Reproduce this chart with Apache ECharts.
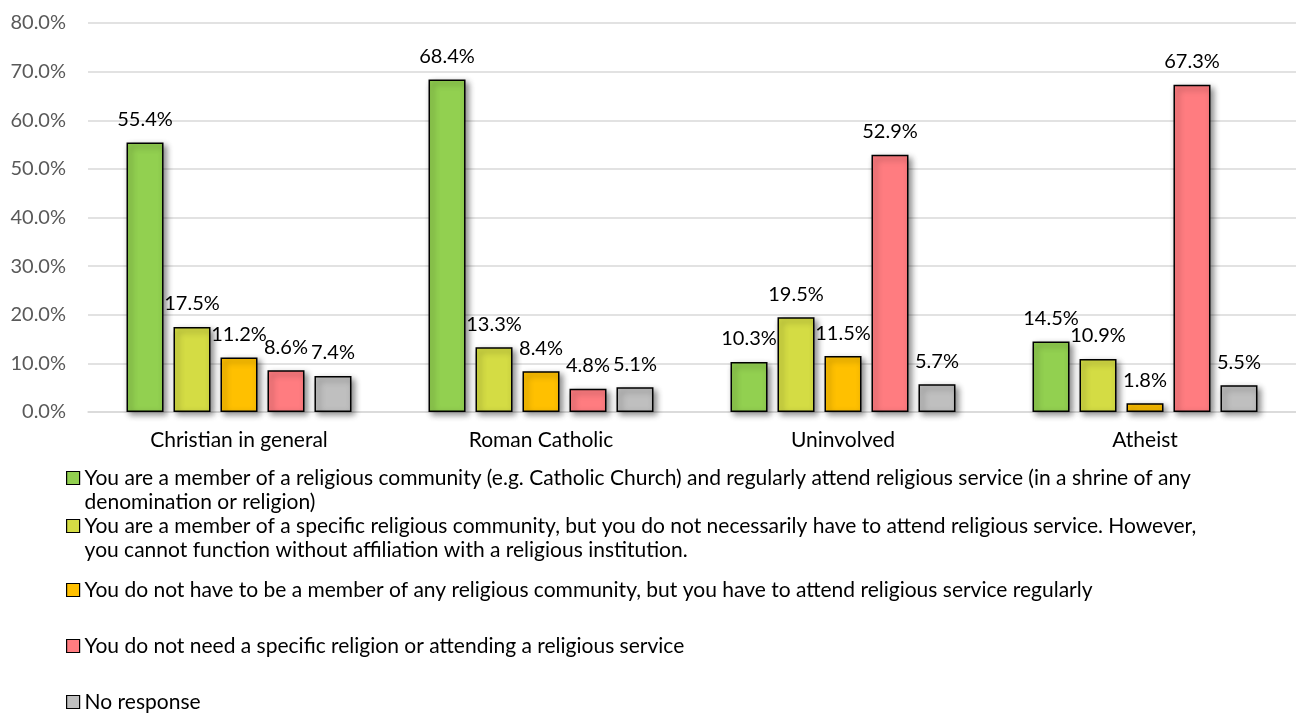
<!DOCTYPE html>
<html>
<head>
<meta charset="utf-8">
<script src="https://cdn.jsdelivr.net/npm/echarts@6/dist/echarts.min.js"></script>
<style>html,body{margin:0;padding:0;background:#fff;}#c{width:1296px;height:713px;}</style>
</head>
<body>
<div id="c"></div>
<script>
const categories = ['Christian in general', 'Roman Catholic', 'Uninvolved', 'Atheist'];
const seriesNames = [
  'You are a member of a religious community (e.g. Catholic Church) and regularly attend religious service (in a shrine of any denomination or religion)',
  'You are a member of a specific religious community, but you do not necessarily have to attend religious service. However, you cannot function without affiliation with a religious institution.',
  'You do not have to be a member of any religious community, but you have to attend religious service regularly',
  'You do not need a specific religion or attending a religious service',
  'No response'
];
const legendText = [
  'You are a member of a religious community (e.g. Catholic Church) and regularly attend religious service (in a shrine of any\ndenomination or religion)',
  'You are a member of a specific religious community, but you do not necessarily have to attend religious service. However,\nyou cannot function without affiliation with a religious institution.',
  'You do not have to be a member of any religious community, but you have to attend religious service regularly',
  'You do not need a specific religion or attending a religious service',
  'No response'
];
const memberAttend = [55.4, 68.4, 10.3, 14.5];
const memberNoAttend = [17.5, 13.3, 19.5, 10.9];
const attendNoMember = [11.2, 8.4, 11.5, 1.8];
const noReligion = [8.6, 4.8, 52.9, 67.3];
const noResponse = [7.4, 5.1, 5.7, 5.5];
const yTicks = [0, 10, 20, 30, 40, 50, 60, 70, 80];

const colors = ['#92D050', '#D4DC44', '#FFC000', '#FF7C80', '#BFBFBF'];
const values = [memberAttend, memberNoAttend, attendNoMember, noReligion, noResponse];
const FONT = 'Lato, "Open Sans", sans-serif';

const series = values.map((v, i) => ({
  name: seriesNames[i],
  type: 'bar',
  data: v,
  barWidth: 37,
  barGap: '27%',
  itemStyle: {
    color: colors[i],
    borderColor: '#000',
    borderWidth: 1.5,
    shadowColor: 'rgba(0,0,0,0.45)',
    shadowBlur: 6,
    shadowOffsetX: 3,
    shadowOffsetY: 3
  },
  label: {
    show: true,
    position: 'top',
    distance: 13,
    formatter: p => p.value.toFixed(1) + '%',
    fontFamily: FONT,
    fontSize: 20,
    color: '#000'
  }
}));

const legendCenters = [478, 526, 590, 646, 702];
const legends = seriesNames.map((n, i) => {
  const twoLine = legendText[i].indexOf('\n') >= 0;
  return {
    data: [n],
    left: 66,
    top: twoLine ? legendCenters[i] - 36 : legendCenters[i] - 12,
    orient: 'vertical',
    padding: 0,
    itemWidth: 13,
    itemHeight: 13,
    itemGap: 0,
    icon: 'rect',
    formatter: () => (twoLine ? '\n' : '') + legendText[i],
    itemStyle: { borderColor: '#000', borderWidth: 1.2, shadowBlur: 0, shadowOffsetX: 0, shadowOffsetY: 0 },
    textStyle: {
      fontFamily: FONT,
      fontSize: 21,
      color: '#000',
      lineHeight: 24
    }
  };
});

const chart = echarts.init(document.getElementById('c'));
chart.setOption({
  animation: false,
  backgroundColor: '#fff',
  grid: { left: 88, right: 0, top: 23, bottom: 301, containLabel: false },
  legend: legends,
  xAxis: {
    type: 'category',
    data: categories,
    axisTick: { show: false },
    axisLine: { lineStyle: { color: '#d9d9d9', width: 1.5 } },
    axisLabel: { fontFamily: FONT, fontSize: 21, color: '#000', margin: 18 }
  },
  yAxis: {
    type: 'value',
    min: yTicks[0],
    max: yTicks[yTicks.length - 1],
    interval: 10,
    axisLine: { show: false },
    axisTick: { show: false },
    splitLine: { lineStyle: { color: '#d9d9d9', width: 1.5 } },
    axisLabel: { fontFamily: FONT, fontSize: 20, color: '#595959', margin: 22, formatter: v => v.toFixed(1) + '%' }
  },
  series: series
});
</script>
</body>
</html>
